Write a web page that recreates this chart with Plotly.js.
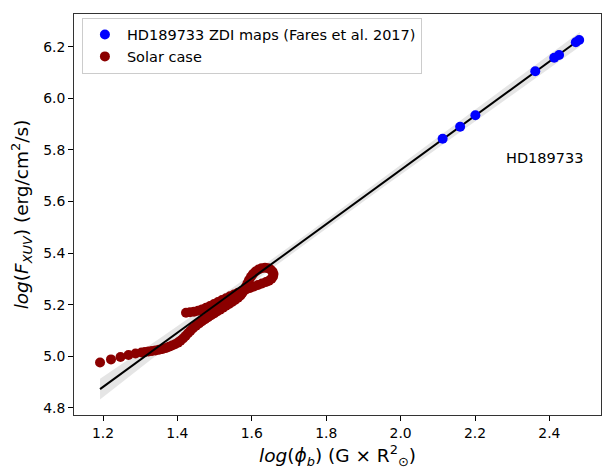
<!DOCTYPE html>
<html>
<head>
<meta charset="utf-8">
<script src="https://cdn.plot.ly/plotly-3.0.1.min.js"></script>
<style>
  html, body { margin: 0; padding: 0; background: #ffffff; }
  #chart { width: 602px; height: 469px; }
</style>
</head>
<body>
<div id="chart"></div>
<script>
// HD189733 magnetic flux vs XUV flux (ZDI maps)
const hdX = [2.113, 2.160, 2.201, 2.362, 2.413, 2.426, 2.471, 2.480];
const hdY = [5.843, 5.890, 5.934, 6.105, 6.157, 6.168, 6.217, 6.226];

// Solar cycle track (time ordered: rise, maximum hook, decline)
const solarX = [
  1.192, 1.2215, 1.247, 1.2685, 1.2874, 1.3035,
  1.3129, 1.3223, 1.3317, 1.3411, 1.3505, 1.3599, 1.3694, 1.3774, 1.3855,
  1.3935, 1.4016, 1.4083, 1.4151, 1.4218, 1.4285, 1.4352, 1.4419, 1.4500,
  1.4581, 1.4661, 1.4742, 1.4823, 1.4903, 1.4984, 1.5065, 1.5145, 1.5226,
  1.5306, 1.5387, 1.5468, 1.5548, 1.5629, 1.5696, 1.5750, 1.5804, 1.5844,
  1.5884, 1.5925, 1.5978, 1.6032, 1.6100, 1.6180, 1.6261, 1.6355, 1.6436,
  1.6503, 1.6557, 1.6583, 1.6570, 1.6530, 1.6462,
  1.6382, 1.6274, 1.6167, 1.6059, 1.5952, 1.5844, 1.5737, 1.5629, 1.5522,
  1.5414, 1.5306, 1.5199, 1.5091, 1.4984, 1.4876, 1.4769, 1.4661, 1.4554,
  1.4446, 1.4339, 1.4231
];
const solarY = [
  4.976, 4.988, 4.997, 5.005, 5.011, 5.015,
  5.0167, 5.0186, 5.0205, 5.0225, 5.0252, 5.0283, 5.0322, 5.0368, 5.0418,
  5.0469, 5.0531, 5.0601, 5.0690, 5.0787, 5.0891, 5.0988, 5.1085, 5.1182,
  5.1271, 5.1356, 5.1438, 5.1515, 5.1589, 5.1663, 5.1736, 5.1810, 5.1884,
  5.1957, 5.2031, 5.2105, 5.2182, 5.2267, 5.2357, 5.2461, 5.2577, 5.2705,
  5.2833, 5.2957, 5.3081, 5.3190, 5.3287, 5.3364, 5.3411, 5.3430, 5.3415,
  5.3364, 5.3287, 5.3190, 5.3093, 5.3004, 5.2926,
  5.2880, 5.2822, 5.2763, 5.2705, 5.2647, 5.2589, 5.2531, 5.2465, 5.2395,
  5.2326, 5.2252, 5.2178, 5.2105, 5.2027, 5.1950, 5.1880, 5.1818, 5.1767,
  5.1729, 5.1705, 5.1690
];

// Linear fit and its confidence band
const fitX = [1.192, 2.482];
const fitY = [4.873, 6.229];
const bandX  = [1.192, 1.35, 1.55, 1.75, 1.95, 2.15, 2.35, 2.482];
const bandLo = [4.833, 5.011, 5.230, 5.442, 5.652, 5.859, 6.065, 6.201];
const bandHi = [4.913, 5.067, 5.268, 5.476, 5.688, 5.901, 6.115, 6.257];

const xTicks = [1.2, 1.4, 1.6, 1.8, 2.0, 2.2, 2.4];
const yTicks = [4.8, 5.0, 5.2, 5.4, 5.6, 5.8, 6.0, 6.2];

const FONT = 'DejaVu Sans, sans-serif';

const traces = [
  {
    x: bandX.concat(bandX.slice().reverse()),
    y: bandHi.concat(bandLo.slice().reverse()),
    type: 'scatter', mode: 'lines', fill: 'toself',
    fillcolor: 'rgba(0,0,0,0.10)', line: {width: 0},
    hoverinfo: 'skip', showlegend: false
  },
  {
    x: solarX, y: solarY, type: 'scatter', mode: 'markers',
    name: 'Solar case', legendrank: 2,
    marker: {color: '#8b0000', size: 10, line: {width: 0}}
  },
  {
    x: fitX, y: fitY, type: 'scatter', mode: 'lines',
    line: {color: '#000000', width: 2}, showlegend: false, hoverinfo: 'skip'
  },
  {
    x: hdX, y: hdY, type: 'scatter', mode: 'markers',
    name: 'HD189733 ZDI maps (Fares et al. 2017)', legendrank: 1,
    marker: {color: '#0000ff', size: 10, line: {width: 0}}
  }
];

const layout = {
  width: 602, height: 469,
  margin: {l: 74, r: 1, t: 14, b: 54, pad: 0},
  paper_bgcolor: '#ffffff', plot_bgcolor: '#ffffff',
  font: {family: FONT, size: 13.9, color: '#000000'},
  showlegend: true,
  legend: {
    x: 0.015, y: 0.991, xanchor: 'left', yanchor: 'top',
    bgcolor: '#ffffff', bordercolor: '#cccccc', borderwidth: 1,
    font: {family: FONT, size: 14.5, color: '#000000'},
    itemwidth: 34, tracegroupgap: 0
  },
  xaxis: {
    range: [1.122, 2.5387], tickvals: xTicks, ticktext: xTicks.map(v => v.toFixed(1)),
    ticks: 'outside', ticklen: 5, tickwidth: 1, tickcolor: '#000000',
    showline: true, linecolor: '#333333', linewidth: 1, mirror: true,
    showgrid: false, zeroline: false,
    tickfont: {family: FONT, size: 13.9},
    title: {
      text: '<i>log</i>(<i>ϕ<sub>b</sub></i>) (G × R<sup>2</sup><sub>⊙</sub>)',
      font: {family: FONT, size: 18.5}, standoff: 11
    }
  },
  yaxis: {
    range: [4.7725, 6.3267], tickvals: yTicks, ticktext: yTicks.map(v => v.toFixed(1)),
    ticks: 'outside', ticklen: 5, tickwidth: 1, tickcolor: '#000000',
    showline: true, linecolor: '#333333', linewidth: 1, mirror: true,
    showgrid: false, zeroline: false,
    tickfont: {family: FONT, size: 13.9},
    title: {
      text: '<i>log</i>(<i>F<sub>XUV</sub></i>) (erg/cm<sup>2</sup>/s)',
      font: {family: FONT, size: 18.5}, standoff: 9
    }
  },
  annotations: [{
    x: 2.386, y: 5.769, xref: 'x', yref: 'y', text: 'HD189733',
    showarrow: false, font: {family: FONT, size: 14.5, color: '#000000'}
  }]
};

Plotly.newPlot('chart', traces, layout, {displayModeBar: false, staticPlot: true});
</script>
</body>
</html>
